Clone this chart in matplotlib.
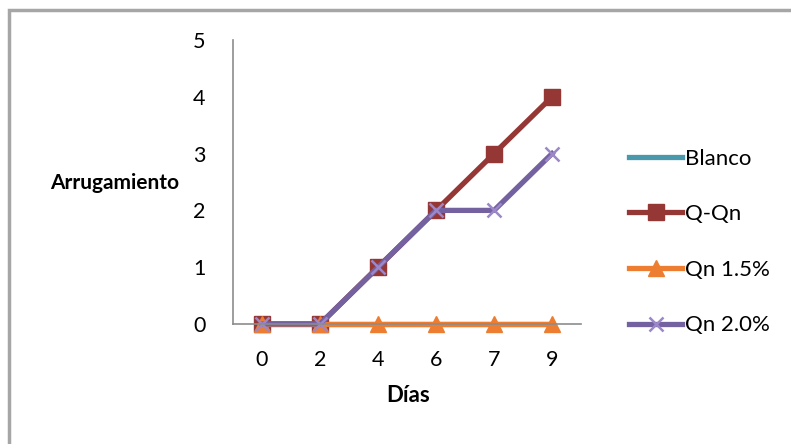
import numpy as np
import matplotlib
matplotlib.use('Agg')
import matplotlib.pyplot as plt
from matplotlib.patches import Rectangle

plt.rcParams['font.family'] = ['Lato', 'DejaVu Sans']

# datos
dias = ['0', '2', '4', '6', '7', '9']
blanco = [0, 0, 0, 0, 0, 0]
q_qn = [0, 0, 1, 2, 3, 4]
qn15 = [0, 0, 0, 0, 0, 0]
qn20 = [0, 0, 1, 2, 2, 3]

fig = plt.figure(figsize=(7.91, 4.44), dpi=100)
ax = fig.add_axes([0.2946, 0.2703, 0.44, 0.6396])

x = np.arange(len(dias))
lw = 3.8
ax.plot(x, blanco, color='#4a98ab', lw=lw, label='Blanco', clip_on=False)
ax.plot(x, q_qn, color='#953735', lw=lw, marker='s', ms=11, label='Q-Qn', clip_on=False)
ax.plot(x, qn15, color='#ed7d31', lw=lw, marker='^', ms=11, label='Qn 1.5%', clip_on=False)
ax.plot(x, qn20, color='#7461a0', lw=lw, marker='x', ms=10, mew=1.8,
        mec='#9b87c9', label='Qn 2.0%', clip_on=False)

ax.set_xlim(-0.5, 5.5)
ax.set_ylim(0, 5)
ax.set_xticks(x)
ax.set_xticklabels(dias)
ax.set_yticks(range(6))
ax.tick_params(length=0, labelsize=15.5, pad=19)
ax.tick_params(axis='y', pad=20)
for s in ['top', 'right']:
    ax.spines[s].set_visible(False)
for s in ['left', 'bottom']:
    ax.spines[s].set_color('#8c8c8c')
    ax.spines[s].set_linewidth(1.2)

fig.text(115/791, 1-183/444, 'Arrugamiento', fontsize=15, fontweight='bold',
         ha='center', va='center')
fig.text(408/791, 1-395/444, 'Días', fontsize=16, fontweight='bold',
         ha='center', va='center')

fig.legend(loc='center left', bbox_to_anchor=(609/791, 1-242/444), frameon=False,
           fontsize=16, handlelength=2.4, handletextpad=0.1, labelspacing=1.6)

# marco del gráfico
fig.patches.append(Rectangle((9/791, -0.1), 1.2, 1-10/444+0.1, transform=fig.transFigure,
                             fill=False, ec='#a6a6a6', lw=2.5))

fig.savefig('out.png', dpi=100)
